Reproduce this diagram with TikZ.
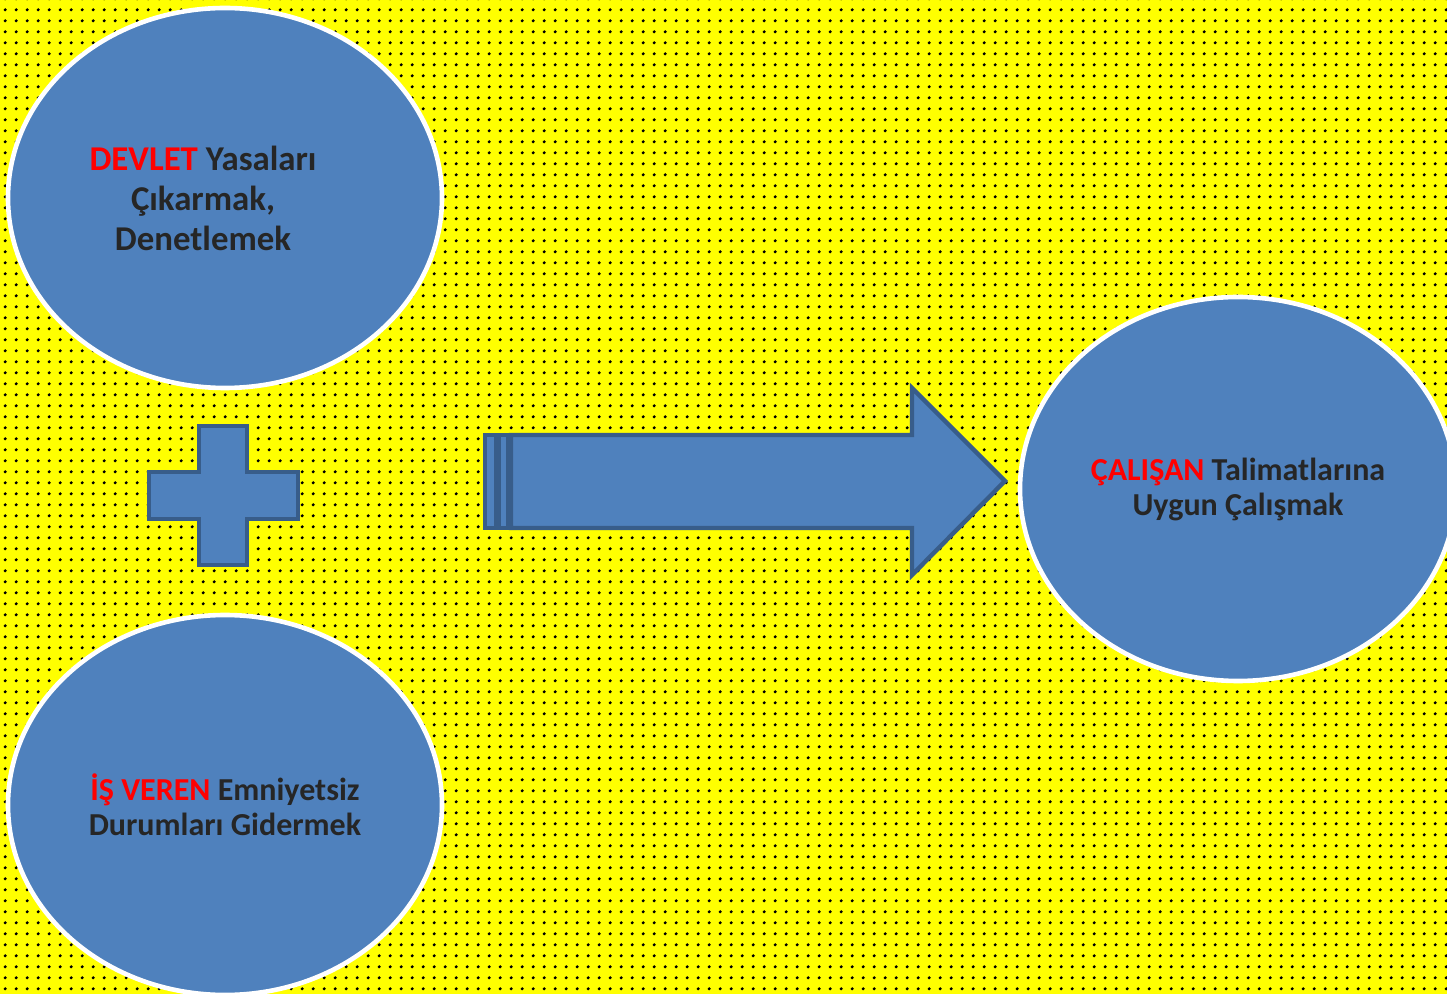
\documentclass[tikz,border=0pt]{standalone}
\usepackage{fontspec}
\setmainfont{Carlito}
\usepackage{tikz}
\usetikzlibrary{shapes.geometric,patterns}

\definecolor{bgyellow}{HTML}{FFFF00}
\definecolor{boxblue}{HTML}{4F81BD}
\definecolor{edgeblue}{HTML}{385D8A}
\definecolor{txtgray}{HTML}{262626}
\definecolor{keyred}{HTML}{FF0000}

% dotted background
\pgfdeclarepatternformonly{dotgrid}{\pgfpointorigin}{\pgfpoint{5.33pt}{5.33pt}}{\pgfpoint{5.33pt}{5.33pt}}{%
  \pgfpathcircle{\pgfpoint{2.67pt}{2.67pt}}{0.85pt}\pgfusepath{fill}}

\newcommand{\key}[1]{\textcolor{keyred}{#1}}

\begin{document}
\begin{tikzpicture}[x=0.5pt,y=-0.5pt,
	bubble/.style={ellipse,fill=boxblue,draw=white,line width=2.3pt,
		minimum width=217pt,minimum height=190pt,inner sep=0pt},
	btext/.style={text=txtgray,align=center,font=\bfseries\fontsize{16}{17.5}\selectfont},
	block/.style={fill=boxblue,draw=edgeblue,line width=2.2pt}]
		\useasboundingbox (0,0) rectangle (1447,994);
		\fill[bgyellow] (0,0) rectangle (1447,994);
		\fill[pattern=dotgrid,pattern color=black] (0,0) rectangle (1447,994);

		\node[bubble] (devlet) at (225,198)
			[label={[btext,font=\bfseries\fontsize{17.4}{20}\selectfont,xshift=-11pt]center:{\key{DEVLET} Yasaları\\Çıkarmak,\\Denetlemek}}] {};
		\node[bubble,btext] (isveren) at (225,805) {\key{İŞ VEREN} Emniyetsiz\\Durumları Gidermek};
		\node[bubble,btext,minimum width=218pt,minimum height=192pt] (calisan) at (1238,489)
			{\key{ÇALIŞAN} Talimatlarına\\Uygun Çalışmak};

		% plus sign
		\draw[block] (199,426) -- (247,426) -- (247,472) -- (298,472) -- (298,519) -- (247,519)
			-- (247,565) -- (199,565) -- (199,519) -- (149,519) -- (149,472) -- (199,472) -- cycle;

		% striped arrow
		\draw[block] (485,435) rectangle (496,528);
		\draw[block] (499,435) rectangle (508,528);
		\draw[block] (511,435) -- (912,435) -- (912,388) -- (1005,481) -- (912,575) -- (912,528) -- (511,528) -- cycle;
	\end{tikzpicture}
\end{document}
